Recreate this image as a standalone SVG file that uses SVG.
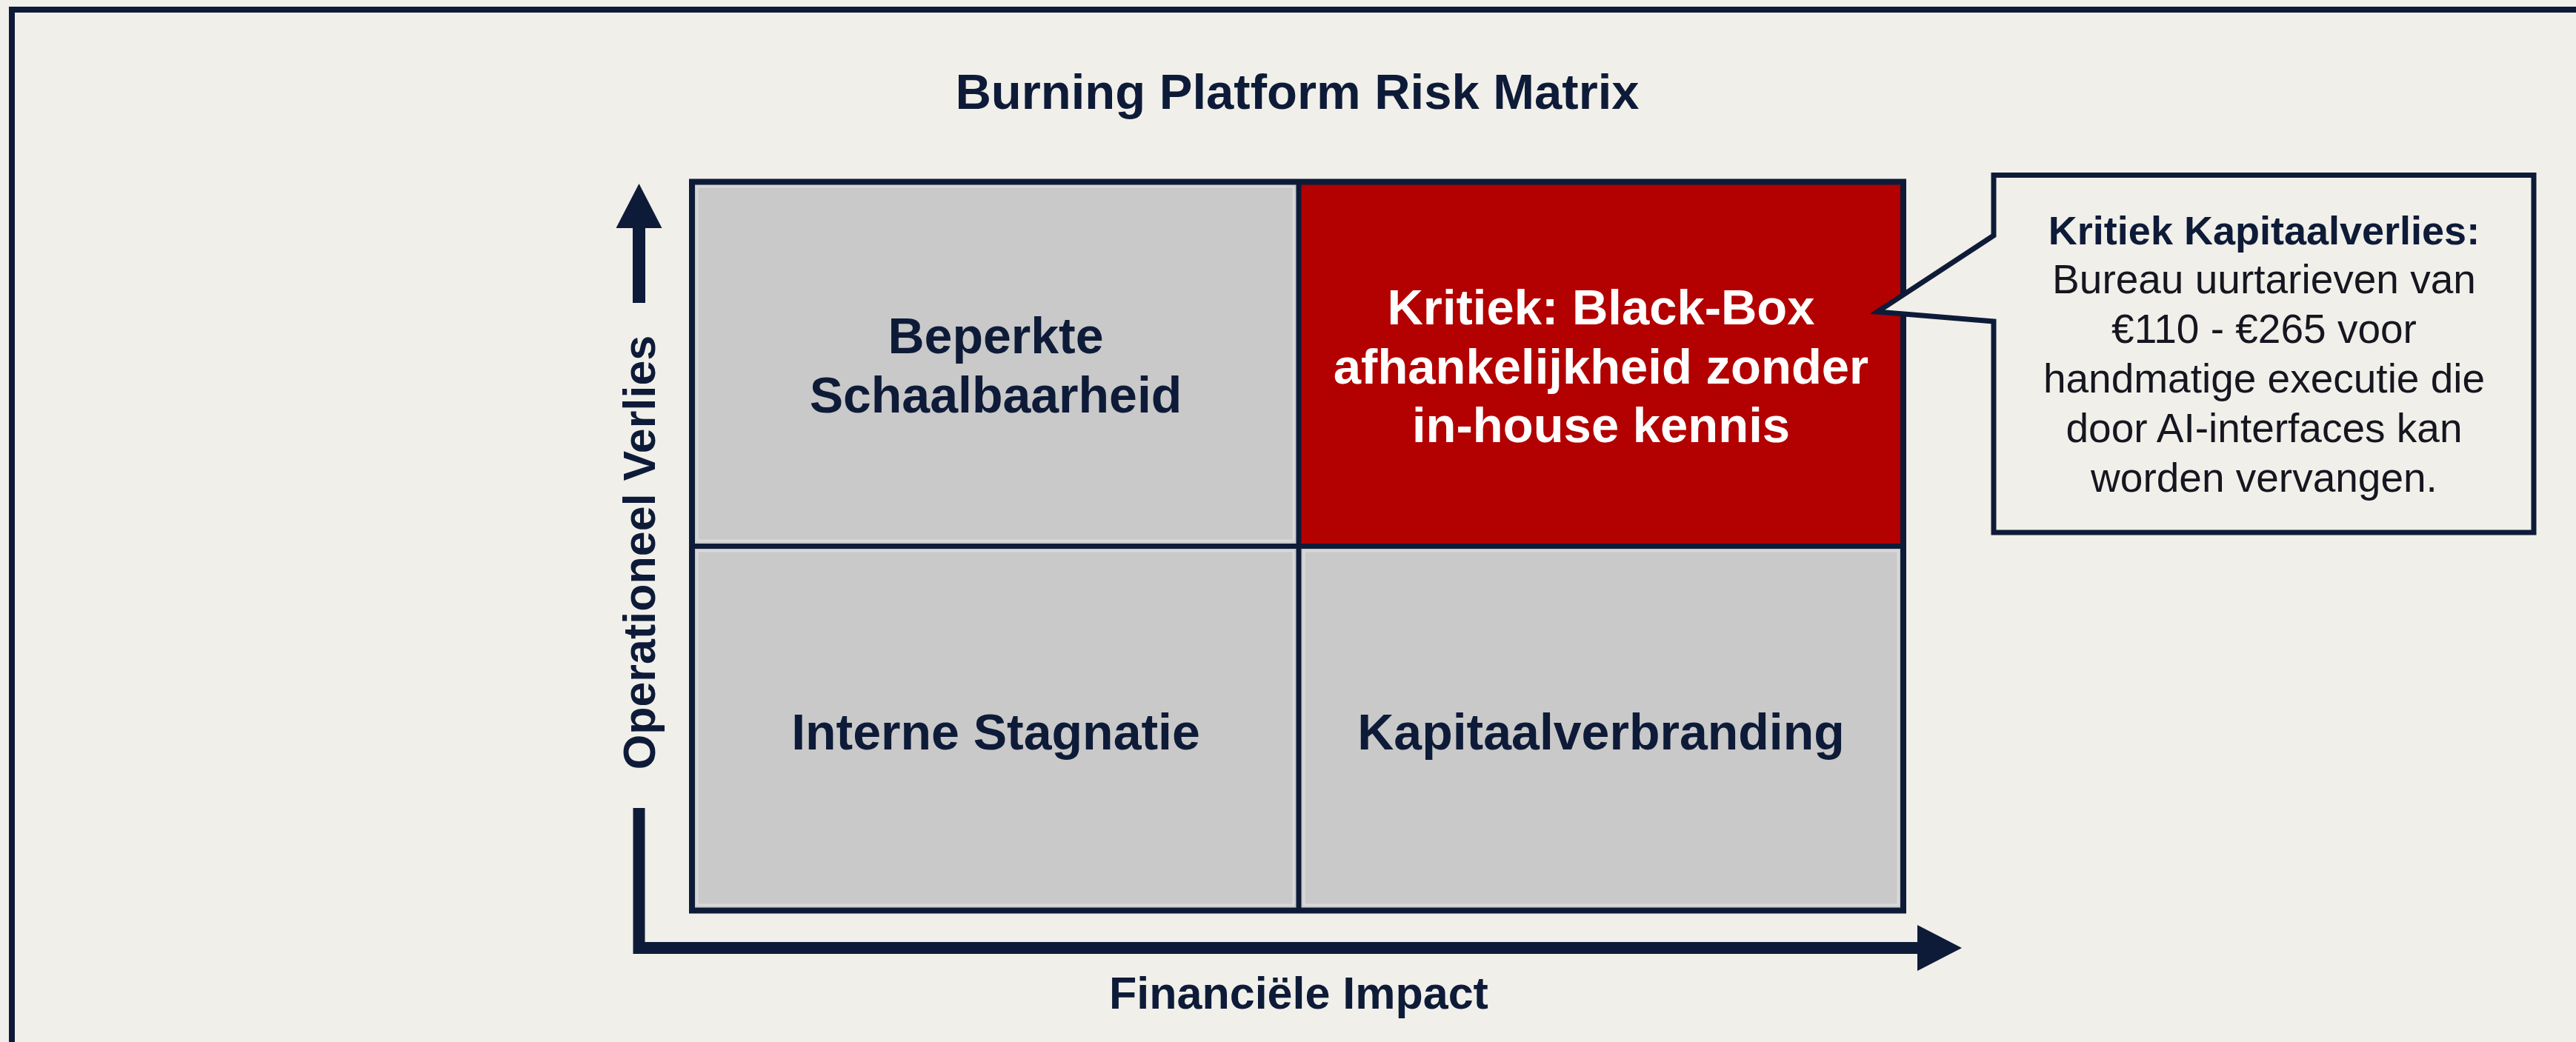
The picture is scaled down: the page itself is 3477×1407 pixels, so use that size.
<svg xmlns="http://www.w3.org/2000/svg" width="3477" height="1407" viewBox="0 0 3477 1407">
<style>
.bg{fill:#f0efe9}
.navy{stroke:#0e1b38;fill:none}
.cell{fill:#c9c9c9}
.inner{fill:none;stroke:#d9d9d9;stroke-width:3}
.t{font-family:"Liberation Sans",Arial,sans-serif;text-anchor:middle}
.b{font-weight:bold}
.dark{fill:#0e1b38}
.white{fill:#ffffff}
.body{fill:#15161f}
</style>
<defs>
<marker id="head" markerUnits="userSpaceOnUse" markerWidth="60" markerHeight="62" viewBox="0 0 60 62" refX="1" refY="31" orient="auto">
<path d="M0,0 L60,31 L0,62 Z" fill="#0e1b38"/>
</marker>
</defs>
<rect class="bg" x="0" y="0" width="3477" height="1407"/>
<path class="navy" d="M16,1407 V13 H3477" stroke-width="8"/>
<text class="t b dark" x="1751" y="147" font-size="67">Burning Platform Risk Matrix</text>

<g id="cell-tl">
<rect class="cell" x="934" y="245" width="819" height="492"/>
<rect class="inner" x="941" y="252" width="805" height="478"/>
<text class="t b dark" x="1344" y="477" font-size="68">Beperkte</text>
<text class="t b dark" x="1344" y="557" font-size="68">Schaalbaarheid</text>
</g>
<g id="cell-tr">
<rect x="1753" y="245" width="816" height="492" fill="#b30000"/>
<text class="t b white" x="2161" y="438" font-size="67">Kritiek: Black-Box</text>
<text class="t b white" x="2161" y="518" font-size="67">afhankelijkheid zonder</text>
<text class="t b white" x="2161" y="597" font-size="67">in-house kennis</text>
</g>
<g id="cell-bl">
<rect class="cell" x="934" y="737" width="819" height="492"/>
<rect class="inner" x="941" y="744" width="805" height="478"/>
<text class="t b dark" x="1344" y="1012" font-size="68">Interne Stagnatie</text>
</g>
<g id="cell-br">
<rect class="cell" x="1753" y="737" width="816" height="492"/>
<rect class="inner" x="1760" y="744" width="802" height="478"/>
<text class="t b dark" x="2161" y="1012" font-size="68">Kapitaalverbranding</text>
</g>
<g id="grid">
<rect class="navy" x="934" y="245.5" width="1635" height="984" stroke-width="8"/>
<line class="navy" x1="1753" y1="245" x2="1753" y2="1230" stroke-width="7"/>
<line class="navy" x1="934" y1="737.5" x2="2569" y2="737.5" stroke-width="7"/>
</g>

<g id="callout">
<path d="M2691,318 L2534,421 L2691,434 V719 H3420 V236.5 H2691 Z" fill="#f0efe9" stroke="#0e1b38" stroke-width="7" stroke-linejoin="miter"/>
<text class="t b dark" x="3056" y="330" font-size="54">Kritiek Kapitaalverlies:</text>
<text class="t body" x="3056" y="396" font-size="55">Bureau uurtarieven van</text>
<text class="t body" x="3056" y="463" font-size="55">€110 - €265 voor</text>
<text class="t body" x="3056" y="530" font-size="55">handmatige executie die</text>
<text class="t body" x="3056" y="597" font-size="55">door AI-interfaces kan</text>
<text class="t body" x="3056" y="664" font-size="55">worden vervangen.</text>
</g>

<g id="connectors">
<path class="navy" d="M862.5,409 V307" stroke-width="17" marker-end="url(#head)"/>
<path class="navy" d="M862.5,1091 V1280 H2589" stroke-width="16" stroke-linejoin="miter" marker-end="url(#head)"/>
</g>
<g id="axis-labels">
<text class="t b dark" x="1753" y="1362" font-size="61">Financiële Impact</text>
<text class="t b dark" transform="translate(884,746) rotate(-90)" x="0" y="0" font-size="61">Operationeel Verlies</text>
</g>
</svg>
